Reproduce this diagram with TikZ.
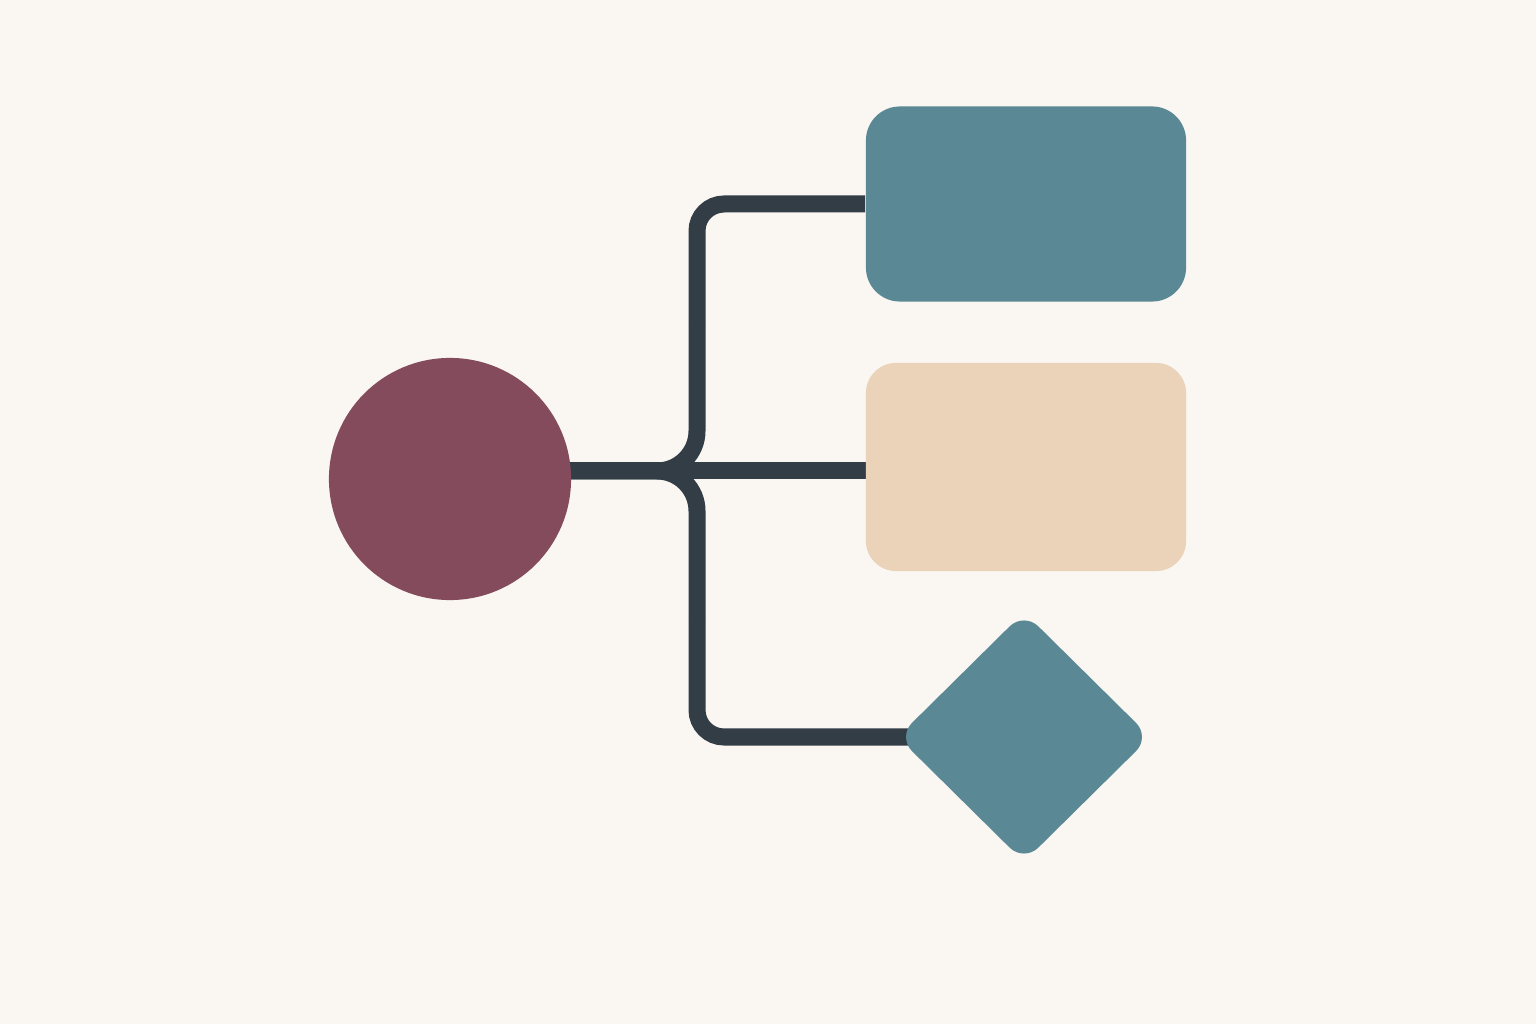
\documentclass[tikz,border=0pt]{standalone}
\usepackage{tikz}
\usetikzlibrary{shapes.geometric,backgrounds}

\definecolor{paper}{HTML}{FAF6F2}
\definecolor{teal}{HTML}{5A8894}
\definecolor{sand}{HTML}{EBD3BA}
\definecolor{plum}{HTML}{844B5D}
\definecolor{slate}{HTML}{323D46}

\tikzset{
	panel/.style={rectangle, inner sep=0pt, minimum width=3.2cm},
	link/.style={slate, line width=0.17cm}
}

\begin{document}
\begin{tikzpicture}[x=0.01cm, y=0.01cm]

	\useasboundingbox (0,0) rectangle (1536,1024);

	%Hub
	\node[circle, fill=plum, inner sep=0pt, minimum size=2.42cm] (hub) at (450,545) {};

	%Boxes
	\node[panel, fill=teal, minimum height=1.95cm, rounded corners=0.34cm] (top) at (1026,820) {};
	\node[panel, fill=sand, minimum height=2.08cm, rounded corners=0.3cm] (mid) at (1026,557) {};

	%Diamond
	\node[diamond, fill=teal, inner sep=0pt, minimum width=2.53cm, minimum height=2.5cm, rounded corners=0.2cm] (gem) at (1024,287) {};

	\coordinate (spine) at (697,553);
	\coordinate (upper) at (697,700);
	\coordinate (lower) at (697,400);

	\begin{scope}[on background layer]
		\fill[paper] (0,0) rectangle (1536,1024);

		%Trunk
		\draw[link] (hub |- spine) -- (mid |- spine);

		%Upper branch
		\draw[link, rounded corners=0.4cm] (hub |- spine) -| (upper);
		\draw[link, rounded corners=0.27cm] (upper) |- (top);

		%Lower branch
		\draw[link, rounded corners=0.4cm] (hub |- spine) -| (lower);
		\draw[link, rounded corners=0.27cm] (lower) |- (gem.center);
	\end{scope}

\end{tikzpicture}
\end{document}
